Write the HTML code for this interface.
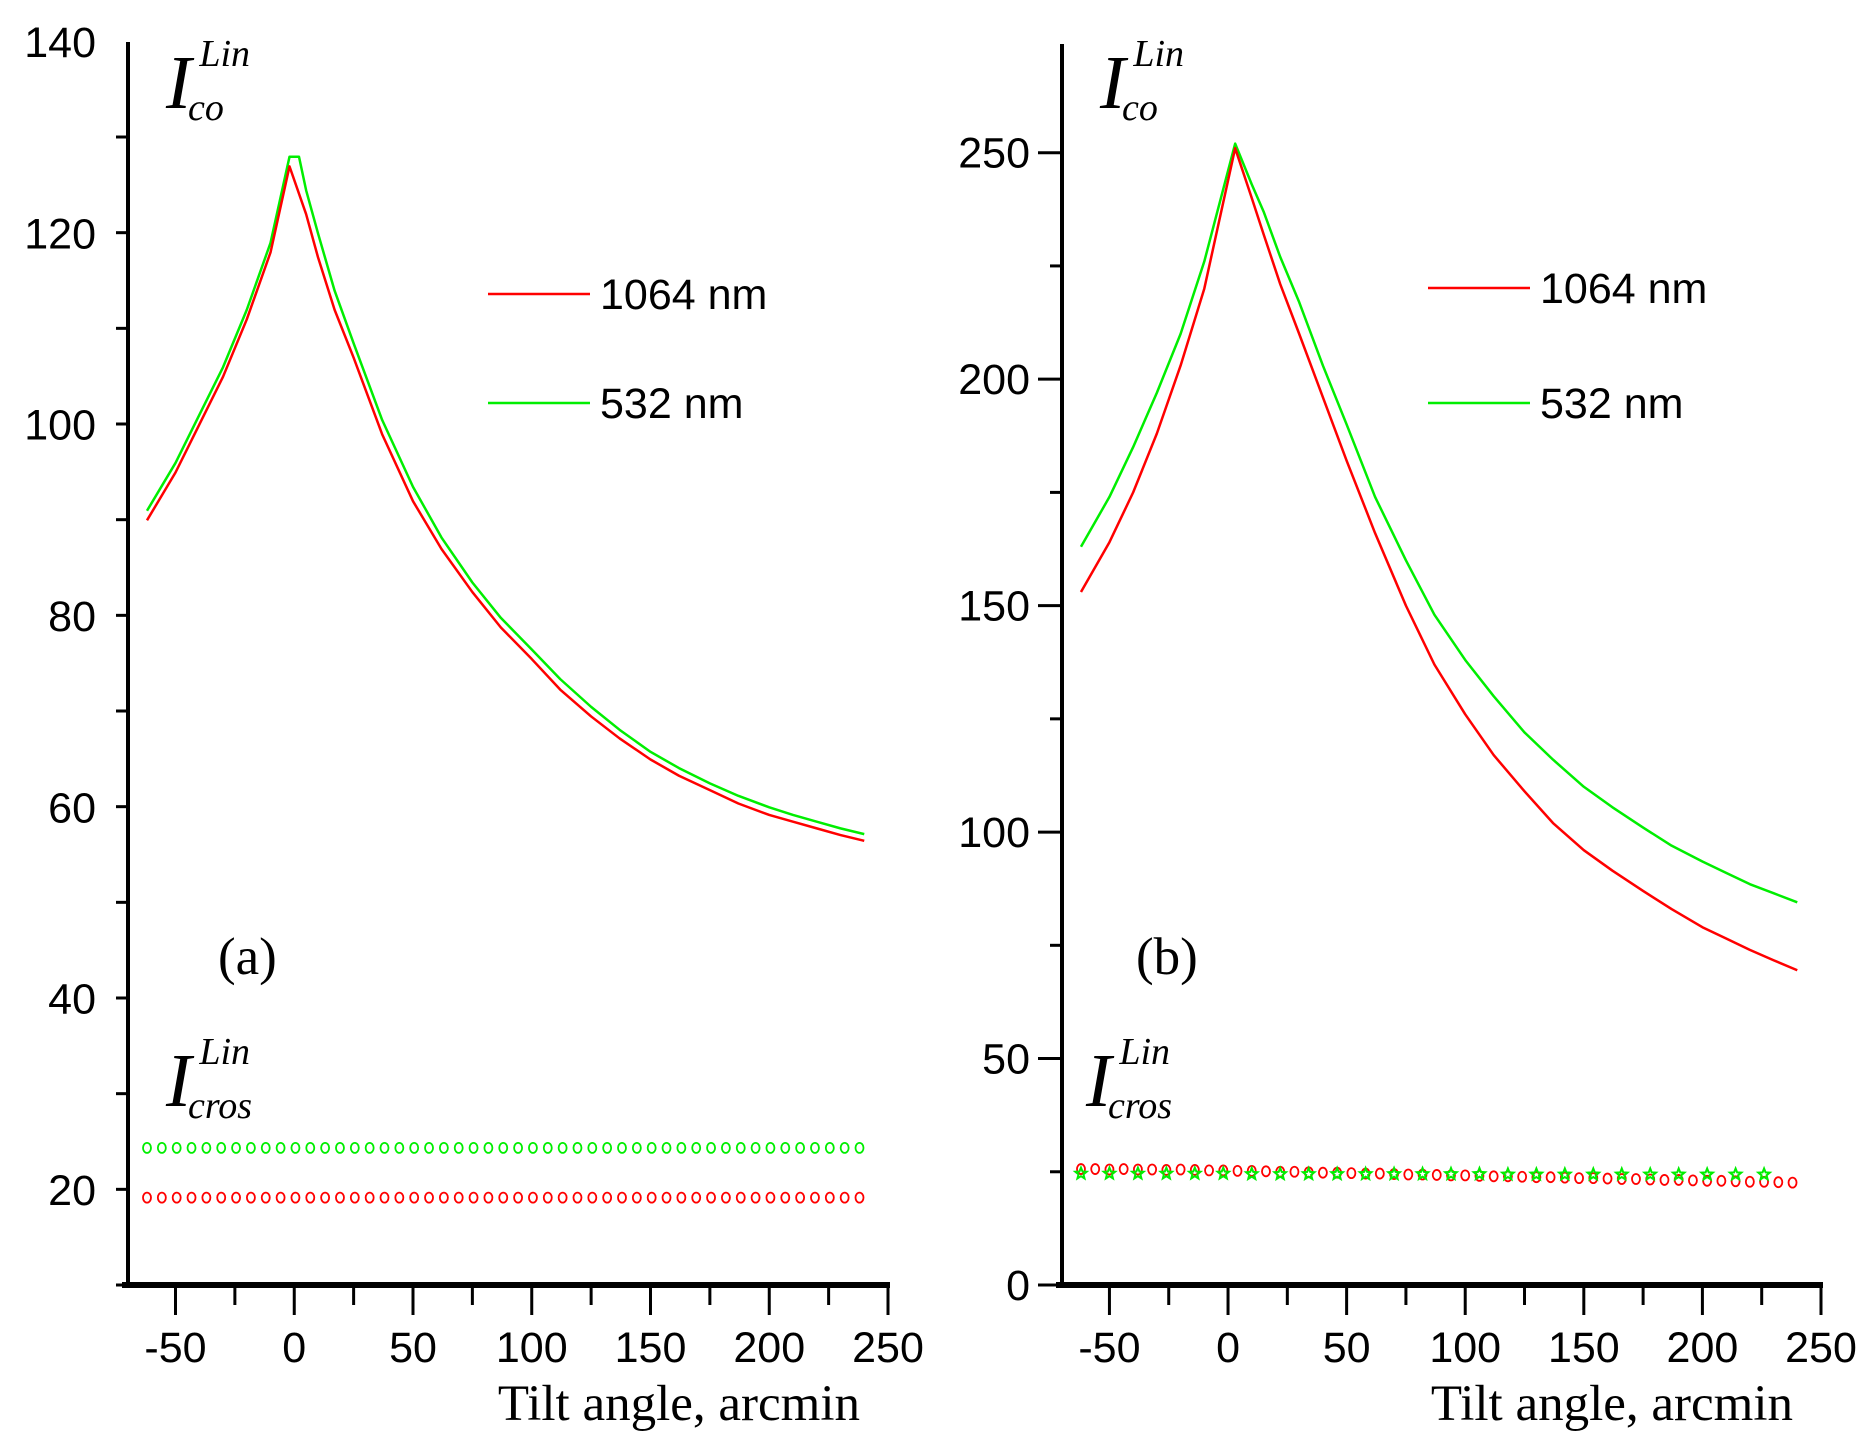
<!DOCTYPE html>
<html><head><meta charset="utf-8"><style>
html,body{margin:0;padding:0;background:#fff;}
svg{display:block;}
.tk{font-family:"Liberation Sans",Arial,sans-serif;font-size:43px;fill:#000;}
.lg{font-family:"Liberation Sans",Arial,sans-serif;font-size:43px;fill:#000;}
.ser{font-family:"Liberation Serif","Times New Roman",serif;fill:#000;}
</style></head><body>
<svg id="chart" width="1871" height="1441" viewBox="0 0 1871 1441" xmlns="http://www.w3.org/2000/svg">
<g id="pa"></g>
<g id="pb"></g>
</svg>
<script>
// ---- data ----
const xTicks = [-50, 0, 50, 100, 150, 200, 250];
const yTicksA = [20, 40, 60, 80, 100, 120, 140];
const yTicksB = [0, 50, 100, 150, 200, 250];
const coXA_red = [-62,-50,-40,-30,-20,-10,-2,5,10,17,25,37,50,62,75,87,100,112,125,137,150,162,175,187,200,210,220,230,240];
const coA_red = [90,95,100,105,111,118,127,122,117.5,112,107,99,92,87,82.5,78.8,75.5,72.3,69.5,67.2,65,63.3,61.8,60.4,59.2,58.5,57.8,57.1,56.5];
const coXA_green = [-62,-50,-40,-30,-20,-10,-2,2,5,10,17,25,37,50,62,75,87,100,112,125,137,150,162,175,187,200,210,220,230,240];
const coA_green = [91,96,101,106,112,119,128,128,124.5,120,114,108.5,100.5,93.5,88.2,83.5,79.8,76.5,73.4,70.5,68.1,65.8,64.1,62.5,61.2,60,59.2,58.5,57.8,57.2];
const coXB = [-62,-50,-40,-30,-20,-10,3,10,15,22,30,40,50,62,75,87,100,112,125,137,150,162,175,187,200,210,220,230,240];
const coB_red = [153,164,175,188,203,220,251,240,232,221,210,196,182,166,150,137,126,117,109,102,96,91.5,87,83,79,76.5,74,71.7,69.5];
const coB_green = [163,174,185,197,210,226,252,243,237,227,217,203,190,174,160,148,138,130,122,116,110,105.5,101,97,93.5,91,88.5,86.5,84.5];
const crosA_red = [19.2,19.2,19.2,19.2,19.2,19.2,19.2,19.2,19.2,19.2,19.2,19.2,19.2,19.2,19.2,19.2,19.2,19.2,19.2,19.2,19.2,19.2,19.2,19.2,19.2,19.2,19.2,19.2,19.2,19.2,19.2,19.2,19.2,19.2,19.2,19.2,19.2,19.2,19.2,19.2,19.2,19.2,19.2,19.2,19.2,19.2,19.2,19.2,19.2];
const crosA_green = [24.4,24.4,24.4,24.4,24.4,24.4,24.4,24.4,24.4,24.4,24.4,24.4,24.4,24.4,24.4,24.4,24.4,24.4,24.4,24.4,24.4,24.4,24.4,24.4,24.4,24.4,24.4,24.4,24.4,24.4,24.4,24.4,24.4,24.4,24.4,24.4,24.4,24.4,24.4,24.4,24.4,24.4,24.4,24.4,24.4,24.4,24.4,24.4,24.4];
const crosB_red = [25.6,25.6,25.5,25.6,25.5,25.5,25.4,25.5,25.4,25.3,25.3,25.2,25.2,25.1,25.0,25.0,24.9,24.8,24.8,24.7,24.6,24.6,24.5,24.4,24.4,24.3,24.2,24.2,24.1,24.0,24.0,23.9,23.8,23.8,23.7,23.6,23.6,23.5,23.4,23.4,23.3,23.2,23.2,23.1,23.0,23.0,22.9,22.8,22.8,22.7,22.6];
const crosB_green = [24.6,24.6,24.6,24.6,24.6,24.6,24.5,24.5,24.5,24.5,24.5,24.5,24.5,24.5,24.5,24.4,24.4,24.4,24.4,24.4,24.4,24.4,24.4,24.4,24.4];
const NS='http://www.w3.org/2000/svg';
function mk(parent,tag,attrs,text){const e=document.createElementNS(NS,tag);for(const k in attrs)e.setAttribute(k,attrs[k]);if(text!==undefined)e.textContent=text;parent.appendChild(e);return e;}

function panel(g, o){
  const X = v => o.x0 + (v - (-70)) / 320 * (o.x1 - o.x0);
  const Y = v => o.yb - (v - o.ymin) / (o.ymax - o.ymin) * (o.yb - o.yt);
  let a=mk(g,'line',{x1:X(-70),x2:X(-70),y1:o.yt,y2:o.yb,stroke:'#000','stroke-width':4});
  
  a=mk(g,'line',{x1:X(-70)-6,x2:X(250)+2,y1:o.yb,y2:o.yb,stroke:'#000','stroke-width':6});
  
  for(let v=-50; v<=250; v+=25){
    const maj = v%50===0;
    const t=mk(g,'line',{x1:X(v),x2:X(v),y1:o.yb,y2:o.yb+(maj?30:20),stroke:'#000','stroke-width':3});
    
    
  }
  xTicks.forEach(v=>{
    const t=mk(g,'text',{x:X(v),y:1362,'text-anchor':'middle',class:'tk'},String(v));
    
    
  });
  for(let v=o.ymin; v<=o.ymax+0.01; v+=o.minStep){
    if(Y(v)<o.yt-2) continue;
    const maj = o.yticks.includes(v);
    const t=mk(g,'line',{x1:X(-70)-(maj?24:12),x2:X(-70),y1:Y(v),y2:Y(v),stroke:'#000','stroke-width':3});
    
    
  }
  o.yticks.forEach(v=>{
    const t=mk(g,'text',{x:X(-70)-32,y:Y(v)+15,'text-anchor':'end',class:'tk'},String(v));
    
    
  });
  o.curves.forEach(c=>{
    const p=mk(g,'polyline',{points:c.xs.map((x,i)=>X(x)+','+Y(c.ys[i])).join(' '),fill:'none',stroke:c.col,'stroke-width':2.5,'stroke-linejoin':'round'});
    
    
  });
  o.markers.forEach(m=>{
    const grp=mk(g,'g',{});
    
    
    m.ys.forEach((v,i)=>{
      const x=X(m.start+i*m.step), y=Y(v);
      if(m.star){
        const pts=[];for(let k=0;k<10;k++){const r=k%2?2.6:6,an=-Math.PI/2+k*Math.PI/5;pts.push((x+r*Math.cos(an))+','+(y+r*Math.sin(an)));}
        const s=mk(grp,'polygon',{points:pts.join(' '),fill:'none',stroke:m.col,'stroke-width':2});
        
        
      } else {
        const s=mk(grp,'ellipse',{cx:x,cy:y,rx:4,ry:5,fill:'none',stroke:m.col,'stroke-width':1.8});
        
        
      }
    });
  });
  [['#ff0000','1064 nm',o.leg[1]],['#00ee00','532 nm',o.leg[2]]].forEach(l=>{
    const lg=mk(g,'g',{});
    
    
    mk(lg,'line',{x1:o.leg[0],x2:o.leg[0]+102,y1:l[2],y2:l[2],stroke:l[0],'stroke-width':2.5});
    mk(lg,'text',{x:o.leg[0]+112,y:l[2]+15,class:'lg'},l[1]);
  });
  const lab=(x,y,sub,name)=>{
    const t=mk(g,'text',{x:x,y:y,class:'ser','font-style':'italic'});
    
    
    mk(t,'tspan',{'font-size':76},'I');
    mk(t,'tspan',{'font-size':38,dx:8,dy:-42},'Lin');
    mk(t,'tspan',{'font-size':38,dx:-62,dy:54},sub);
  };
  lab(o.lx,108,'co','i-co-label');
  lab(o.lx-(o.cx||0),1106,'cros','i-cros-label');
  let t=mk(g,'text',{x:o.px,y:974,class:'ser','font-size':53},o.ptxt);
  
  t=mk(g,'text',{x:X(250)-28,y:1420,'text-anchor':'end',class:'ser','font-size':51},'Tilt angle, arcmin');
  
}
panel(document.getElementById('pa'),{x0:128,x1:888,yt:42,yb:1285,ymin:(20-95/191.3*20),ymax:140,
  yticks:yTicksA,minStep:10,
  curves:[{xs:coXA_green,ys:coA_green,col:'#00ee00',name:'line-532nm'},{xs:coXA_red,ys:coA_red,col:'#ff0000',name:'line-1064nm'}],
  markers:[{ys:crosA_green,start:-62,step:6.25,col:'#00ee00',name:'cros-532nm'},{ys:crosA_red,start:-62,step:6.25,col:'#ff0000',name:'cros-1064nm'}],
  leg:[488,294,403],lx:166,px:218,ptxt:'(a)'});
panel(document.getElementById('pb'),{x0:1062,x1:1821,yt:44,yb:1285,ymin:0,ymax:274,
  yticks:yTicksB,minStep:25,
  curves:[{xs:coXB,ys:coB_green,col:'#00ee00',name:'line-532nm'},{xs:coXB,ys:coB_red,col:'#ff0000',name:'line-1064nm'}],
  markers:[{ys:crosB_red,start:-62,step:6,col:'#ff0000',name:'cros-1064nm'},{ys:crosB_green,start:-62,step:12,col:'#00ee00',star:true,name:'cros-532nm'}],
  leg:[1428,288,403],lx:1100,cx:14,px:1136,ptxt:'(b)'});
</script>
</body></html>
